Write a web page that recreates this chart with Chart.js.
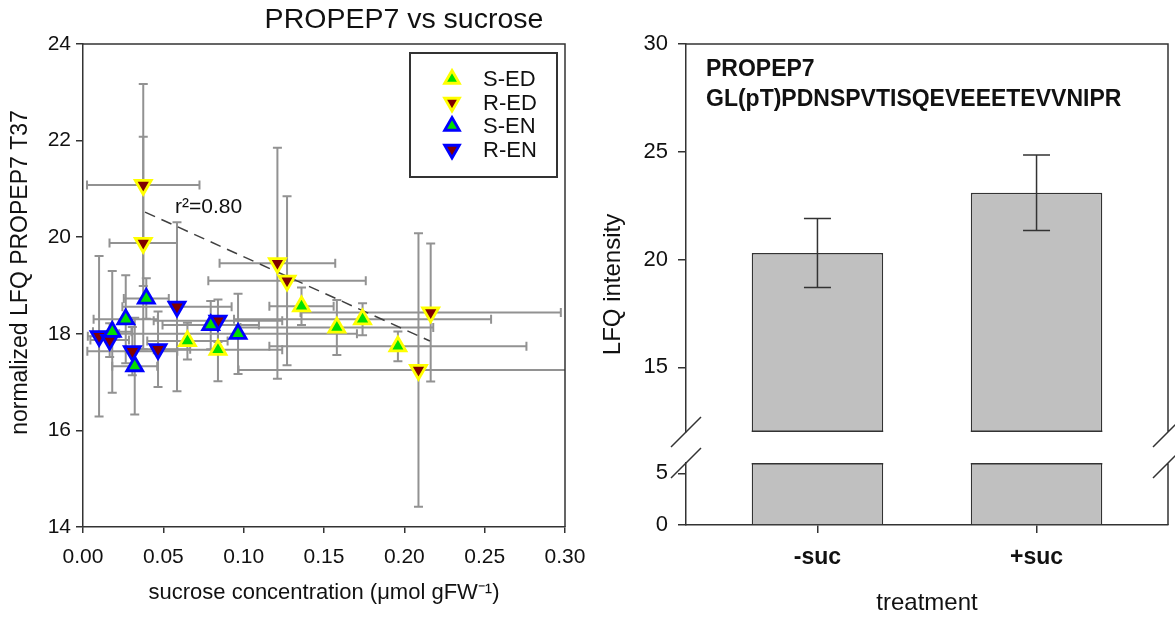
<!DOCTYPE html>
<html>
<head>
<meta charset="utf-8">
<script src="https://cdn.jsdelivr.net/npm/chart.js@4.4.1/dist/chart.umd.min.js"></script>
<style>
html,body{margin:0;padding:0;background:#fff;width:1175px;height:618px;overflow:hidden;}
#left{position:absolute;left:0;top:0;}
#right{position:absolute;left:600px;top:0;}
</style>
</head>
<body>
<canvas id="left" width="600" height="618"></canvas>
<canvas id="right" width="575" height="618"></canvas>
<script>
// ---------------- data: left panel (scatter with x/y error bars) ----------------
const seriesNames = ['S-ED', 'R-ED', 'S-EN', 'R-EN'];

const sedX    = [0.065, 0.084, 0.136, 0.158, 0.174, 0.196];
const sedY    = [17.85, 17.67, 18.57, 18.13, 18.30, 17.74];
const sedXErr = [0.025, 0.040, 0.020, 0.060, 0.080, 0.080];
const sedYErr = [0.38, 0.65, 0.39, 0.57, 0.33, 0.31];

const redX    = [0.0375, 0.0375, 0.121, 0.127, 0.2088, 0.2164];
const redY    = [21.08, 19.88, 19.46, 19.10, 17.25, 18.44];
const redXErr = [0.035, 0.021, 0.036, 0.049, 0.112, 0.081];
const redYErr = [2.09, 2.20, 2.39, 1.75, 2.83, 1.43];

const senX    = [0.0182, 0.0266, 0.0322, 0.0394, 0.0795, 0.0965];
const senY    = [18.04, 18.30, 17.33, 18.73, 18.18, 18.00];
const senXErr = [0.012, 0.020, 0.014, 0.014, 0.030, 0.074];
const senYErr = [1.26, 0.91, 1.00, 0.42, 0.50, 0.83];

const renX    = [0.0100, 0.0166, 0.0307, 0.0467, 0.0585, 0.0840];
const renY    = [17.95, 17.87, 17.64, 17.68, 18.56, 18.27];
const renXErr = [0.007, 0.012, 0.028, 0.020, 0.034, 0.040];
const renYErr = [1.66, 0.35, 0.50, 0.78, 1.75, 0.44];

// regression line end points
const regX = [0.0386, 0.2159];
const regY = [20.52, 17.85];
const rSquaredText = 'r\u00B2=0.80';
const leftTitle = 'PROPEP7 vs sucrose';
const leftYTitle = 'normalized LFQ PROPEP7 T37';

// ---------------- data: right panel (bar chart with broken axis) ----------------
const treatments = ['-suc', '+suc'];
const lfqMean = [20.3, 23.1];
const lfqErr  = [1.6, 1.75];
const peptideLines = ['PROPEP7', 'GL(pT)PDNSPVTISQEVEEETEVVNIPR'];

// ---------------- common ----------------
const FONT = '"Liberation Sans", Arial, Helvetica, sans-serif';
Chart.defaults.font.family = FONT;
Chart.defaults.color = '#111';
const AX = '#333';

function pts(xs, ys) { return xs.map((v, i) => ({x: v, y: ys[i]})); }

function triangle(ctx, x, y, r, down) {
  const s = down ? -1 : 1;
  const h = r * Math.sqrt(3) / 2;
  ctx.beginPath();
  ctx.moveTo(x, y - s * r);
  ctx.lineTo(x + h, y + s * r / 2);
  ctx.lineTo(x - h, y + s * r / 2);
  ctx.closePath();
  ctx.fill();
  ctx.stroke();
}

// ---------------- left chart ----------------
const GREEN = '#00e000', YELLOW = '#ffff00', BLUE = '#0000ff', DRED = '#800000';
const MR = 9.2, MB = 2.8;
const markerBase = {
  type: 'scatter', pointStyle: 'triangle', pointRadius: MR, pointHoverRadius: MR,
  pointBorderWidth: MB, showLine: false, order: 0
};
const scatterSets = [
  {label: seriesNames[0], data: pts(sedX, sedY), xErr: sedXErr, yErr: sedYErr, pointBackgroundColor: GREEN, pointBorderColor: YELLOW, backgroundColor: GREEN, borderColor: YELLOW, pointRotation: 0},
  {label: seriesNames[1], data: pts(redX, redY), xErr: redXErr, yErr: redYErr, pointBackgroundColor: DRED, pointBorderColor: YELLOW, backgroundColor: DRED, borderColor: YELLOW, pointRotation: 180},
  {label: seriesNames[2], data: pts(senX, senY), xErr: senXErr, yErr: senYErr, pointBackgroundColor: GREEN, pointBorderColor: BLUE, backgroundColor: GREEN, borderColor: BLUE, pointRotation: 0},
  {label: seriesNames[3], data: pts(renX, renY), xErr: renXErr, yErr: renYErr, pointBackgroundColor: DRED, pointBorderColor: BLUE, backgroundColor: DRED, borderColor: BLUE, pointRotation: 180}
].map(d => Object.assign({}, markerBase, d));

const leftPlugin = {
  id: 'leftDecor',
  beforeDatasetsDraw(chart) {
    const {ctx, chartArea: a, scales: {x, y}} = chart;
    ctx.save();
    ctx.beginPath();
    ctx.rect(a.left, a.top, a.right - a.left, a.bottom - a.top);
    ctx.clip();
    ctx.strokeStyle = '#929292';
    ctx.lineWidth = 2;
    const cap = 4.5;
    chart.data.datasets.forEach(ds => {
      if (!ds.xErr) return;
      ds.data.forEach((p, i) => {
        const px = x.getPixelForValue(p.x), py = y.getPixelForValue(p.y);
        const x0 = x.getPixelForValue(p.x - ds.xErr[i]), x1 = x.getPixelForValue(p.x + ds.xErr[i]);
        const y0 = y.getPixelForValue(p.y - ds.yErr[i]), y1 = y.getPixelForValue(p.y + ds.yErr[i]);
        ctx.beginPath();
        ctx.moveTo(x0, py); ctx.lineTo(x1, py);
        ctx.moveTo(x0, py - cap); ctx.lineTo(x0, py + cap);
        ctx.moveTo(x1, py - cap); ctx.lineTo(x1, py + cap);
        ctx.moveTo(px, y0); ctx.lineTo(px, y1);
        ctx.moveTo(px - cap, y0); ctx.lineTo(px + cap, y0);
        ctx.moveTo(px - cap, y1); ctx.lineTo(px + cap, y1);
        ctx.stroke();
      });
    });
    ctx.restore();
  },
  afterDatasetsDraw(chart) {
    const {ctx, chartArea: a, scales: {x, y}} = chart;
    ctx.save();
    // r^2 annotation anchored in data coordinates
    ctx.fillStyle = '#111';
    ctx.font = '21px ' + FONT;
    ctx.textAlign = 'left';
    ctx.textBaseline = 'alphabetic';
    ctx.fillText(rSquaredText, x.getPixelForValue(0.0573), y.getPixelForValue(20.5));

    // legend box
    const bw = 147, bh = 124;
    const bx = a.right - 8 - bw, by = a.top + 9;
    ctx.fillStyle = '#fff';
    ctx.fillRect(bx, by, bw, bh);
    ctx.strokeStyle = AX; ctx.lineWidth = 2;
    ctx.strokeRect(bx, by, bw, bh);
    ctx.font = '22px ' + FONT;
    ctx.textBaseline = 'middle';
    scatterSets.forEach((ds, i) => {
      const cy = by + 26 + i * 23.5;
      ctx.fillStyle = ds.pointBackgroundColor;
      ctx.strokeStyle = ds.pointBorderColor;
      ctx.lineWidth = MB;
      triangle(ctx, bx + 42, cy, 8.5, ds.pointRotation === 180);
      ctx.fillStyle = '#111';
      ctx.fillText(ds.label, bx + 73, cy + 1);
    });

    // frame top & right
    ctx.strokeStyle = AX; ctx.lineWidth = 1.5;
    ctx.beginPath();
    ctx.moveTo(a.left, a.top); ctx.lineTo(a.right, a.top); ctx.lineTo(a.right, a.bottom);
    ctx.stroke();

    // chart title
    ctx.fillStyle = '#111';
    ctx.font = '28.5px ' + FONT;
    ctx.textAlign = 'center';
    ctx.textBaseline = 'middle';
    ctx.fillText(leftTitle, (a.left + a.right) / 2 + 80, 20);

    // y axis title (sits slightly above the axis centre, as in the original)
    ctx.save();
    ctx.translate(21, (a.top + a.bottom) / 2 - 13);
    ctx.rotate(-Math.PI / 2);
    ctx.font = '23px ' + FONT;
    ctx.fillText(leftYTitle, 0, 0);
    ctx.restore();
    ctx.restore();
  }
};

new Chart(document.getElementById('left'), {
  type: 'scatter',
  data: {
    datasets: scatterSets.concat([{
      type: 'line', label: 'fit', data: pts(regX, regY), borderColor: '#404040', borderWidth: 1.5,
      borderDash: [11, 7], pointRadius: 0, pointHoverRadius: 0, fill: false, order: 1
    }])
  },
  options: {
    responsive: false, animation: false,
    layout: {padding: {top: 44, right: 35, left: 0, bottom: 0}},
    plugins: {legend: {display: false}, tooltip: {enabled: false}, title: {display: false}},
    scales: {
      x: {
        type: 'linear', min: 0, max: 0.3,
        ticks: {stepSize: 0.05, callback: v => Number(v).toFixed(2), font: {size: 21}, color: '#111', padding: 12, maxRotation: 0, autoSkip: false},
        grid: {display: true, drawOnChartArea: false, drawTicks: true, tickLength: 6, color: AX, lineWidth: 1.5},
        border: {display: true, color: AX, width: 1.5},
        title: {display: true, text: 'sucrose concentration (\u03BCmol gFW\u207B\u00B9)', font: {size: 22}, color: '#111', padding: {top: 0, bottom: 12}},
        afterFit: s => { s.height = 91; }
      },
      y: {
        type: 'linear', min: 14, max: 24,
        ticks: {stepSize: 2, font: {size: 21}, color: '#111', padding: 5},
        grid: {display: true, drawOnChartArea: false, drawTicks: true, tickLength: 7, color: AX, lineWidth: 1.5},
        border: {display: true, color: AX, width: 1.5},
        afterFit: s => { s.width = 83; }
      }
    }
  },
  plugins: [leftPlugin]
});

// ---------------- right chart (broken y axis via stacked scales) ----------------
const barStyle = {
  backgroundColor: '#c0c0c0', borderColor: '#333', borderWidth: 1.5,
  grouped: false, categoryPercentage: 1, barPercentage: 0.6
};
const barPts = lfqMean.map((v, i) => ({x: i, y: v}));

const rightPlugin = {
  id: 'brokenAxis',
  beforeDatasetDraw(chart, args) {
    const ys = args.meta.yScale, a = chart.chartArea, ctx = chart.ctx;
    ctx.save();
    ctx.beginPath();
    ctx.rect(a.left, ys.top, a.right - a.left, ys.bottom - ys.top);
    ctx.clip();
  },
  afterDatasetDraw(chart, args) {
    const ctx = chart.ctx;
    ctx.restore();
    const meta = args.meta, ys = meta.yScale;
    const ds = chart.data.datasets[args.index];
    ctx.save();
    ctx.fillStyle = ds.borderColor;
    meta.data.forEach((el, i) => {
      const {x, width} = el.getProps(['x', 'width'], true);
      const bw = ds.borderWidth;
      if (ds.part === 'upper') ctx.fillRect(x - width / 2, ys.bottom - bw, width, bw);
      else ctx.fillRect(x - width / 2, ys.top, width, bw);
      if (ds.err) {
        const v = ds.data[i].y, e = ds.err[i];
        const t = ys.getPixelForValue(v + e), b = ys.getPixelForValue(v - e);
        const cap = 13.5;
        ctx.strokeStyle = '#333'; ctx.lineWidth = 1.5;
        ctx.beginPath();
        ctx.moveTo(x, t); ctx.lineTo(x, b);
        ctx.moveTo(x - cap, t); ctx.lineTo(x + cap, t);
        ctx.moveTo(x - cap, b); ctx.lineTo(x + cap, b);
        ctx.stroke();
      }
    });
    ctx.restore();
  },
  afterDraw(chart) {
    const {ctx, chartArea: a, scales} = chart;
    const hi = scales.yHigh, lo = scales.yLow;
    ctx.save();
    ctx.strokeStyle = AX; ctx.lineWidth = 1.5;
    ctx.beginPath();
    ctx.moveTo(a.left, a.top); ctx.lineTo(a.right, a.top); ctx.lineTo(a.right, hi.bottom);
    ctx.moveTo(a.right, lo.top); ctx.lineTo(a.right, a.bottom);
    // break marks
    [a.left, a.right].forEach(px => {
      [hi.bottom, lo.top].forEach(py => {
        ctx.moveTo(px - 15, py + 15); ctx.lineTo(px + 15, py - 15);
      });
    });
    ctx.stroke();
    // peptide label
    ctx.fillStyle = '#111';
    ctx.font = 'bold 23px ' + FONT;
    ctx.textAlign = 'left';
    ctx.textBaseline = 'middle';
    peptideLines.forEach((s, i) => ctx.fillText(s, a.left + 20, a.top + 26 + i * 30));
    ctx.restore();
  }
};

const yTickStyle = {font: {size: 22}, color: '#111', padding: 10};
const yGrid = {display: true, drawOnChartArea: false, drawTicks: true, tickLength: 8, color: AX, lineWidth: 1.5};
const yBorder = {display: true, color: AX, width: 1.5};

new Chart(document.getElementById('right'), {
  type: 'bar',
  data: {
    datasets: [
      Object.assign({label: 'LFQ intensity', data: barPts, yAxisID: 'yHigh', part: 'upper', err: lfqErr}, barStyle),
      Object.assign({label: 'LFQ intensity (axis 0\u20136)', data: barPts, yAxisID: 'yLow', part: 'lower'}, barStyle)
    ]
  },
  options: {
    responsive: false, animation: false,
    layout: {padding: {top: 44, right: 7, left: 0, bottom: 0}},
    plugins: {legend: {display: false}, tooltip: {enabled: false}, title: {display: false}},
    scales: {
      x: {
        type: 'linear', position: 'bottom', min: -0.6, max: 1.6, offset: false,
        ticks: {stepSize: 1, includeBounds: false, callback: v => treatments[v] ?? '', font: {size: 23, weight: 'bold'}, color: '#111', padding: 11, maxRotation: 0, autoSkip: false},
        grid: {display: true, offset: false, drawOnChartArea: false, drawTicks: true, tickLength: 8, color: AX, lineWidth: 1.5},
        border: {display: true, color: AX, width: 1.5},
        title: {display: true, text: 'treatment', font: {size: 24}, color: '#111', padding: {top: 0, bottom: 0}},
        afterFit: s => { s.height = 93; }
      },
      yT: {
        type: 'linear', position: 'left', weight: 10,
        ticks: {display: false}, grid: {display: false}, border: {display: false},
        title: {display: true, text: 'LFQ intensity', font: {size: 24, lineHeight: 1}, color: '#111', padding: {top: 1, bottom: 0}},
        afterFit: s => { s.width = 42; }
      },
      yHigh: {
        type: 'linear', position: 'left', stack: 'lfq', stackWeight: 388, weight: 3, min: 12, max: 30,
        ticks: Object.assign({stepSize: 5, includeBounds: false}, yTickStyle),
        grid: yGrid, border: yBorder,
        afterFit: s => { s.width = 44; }
      },
      yGap: {
        type: 'linear', position: 'left', stack: 'lfq', stackWeight: 31, weight: 2,
        ticks: {display: false}, grid: {display: false}, border: {display: false},
        afterFit: s => { s.width = 44; }
      },
      yLow: {
        type: 'linear', position: 'left', stack: 'lfq', stackWeight: 62, weight: 1, min: 0, max: 6,
        ticks: Object.assign({stepSize: 5, includeBounds: false}, yTickStyle),
        grid: yGrid, border: yBorder,
        afterFit: s => { s.width = 44; }
      }
    }
  },
  plugins: [rightPlugin]
});
</script>
</body>
</html>
